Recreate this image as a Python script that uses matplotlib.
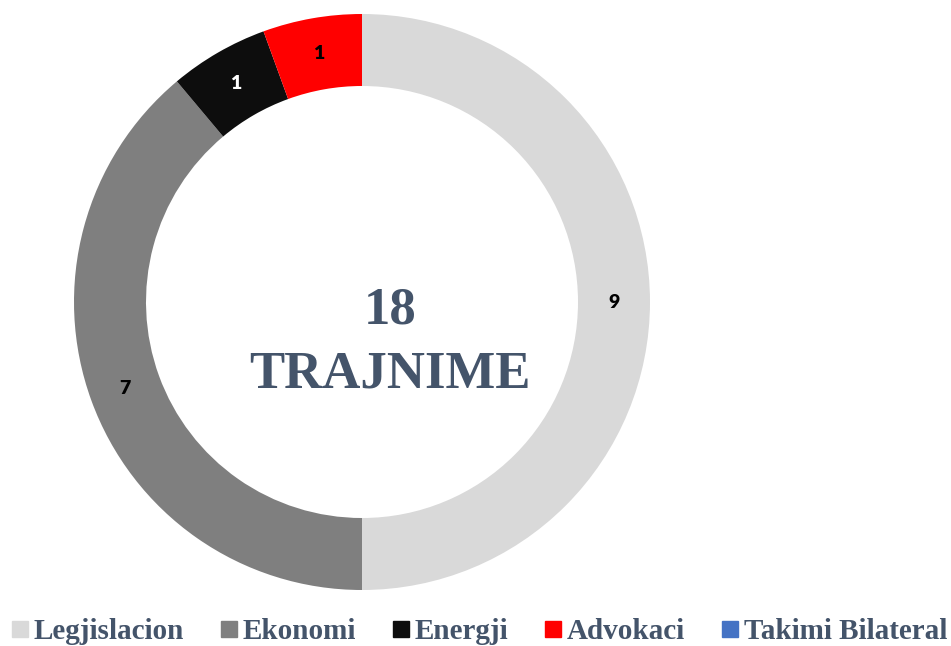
import matplotlib
matplotlib.use('Agg')
import matplotlib.pyplot as plt
from matplotlib.lines import Line2D

# Data
categories = ['Legjislacion', 'Ekonomi', 'Energji', 'Advokaci', 'Takimi Bilateral']
values = [9, 7, 1, 1, 0]
colors = ['#D9D9D9', '#7F7F7F', '#0D0D0D', '#FF0000', '#4472C4']
label_colors = ['black', 'black', 'white', 'black', 'black']
center_lines = ['18', 'TRAJNIME']

total = sum(values)
title_color = '#44546A'

fig = plt.figure(figsize=(9.51, 6.46), dpi=100)
ax = fig.add_axes([74 / 951, 56 / 646, 576 / 951, 576 / 646])

def fmt(p):
    v = round(p * total / 100)
    return f'{v:d}' if v > 0 else ''

wedges, texts, autotexts = ax.pie(values, colors=colors, startangle=90, counterclock=False,
                                  radius=1, autopct=fmt, pctdistance=0.875,
                                  wedgeprops=dict(width=0.25, linewidth=0),
                                  textprops=dict(fontfamily='Lato', fontweight='heavy', fontsize=14))
for t, c in zip(autotexts, label_colors):
    t.set_color(c)

ax.set_xlim(-1, 1)
ax.set_ylim(-1, 1)
ax.set_aspect('equal')
ax.axis('off')

# Center text (slightly right of the ring centre, as in the original)
ax.text(0.097, -0.03, center_lines[0], ha='center', va='center', fontsize=38,
        fontfamily='Liberation Serif', fontweight='bold', color=title_color)
ax.text(0.097, -0.25, center_lines[1], ha='center', va='center', fontsize=38,
        fontfamily='Liberation Serif', fontweight='bold', color=title_color)

# Legend
handles = [Line2D([0], [0], marker='s', linestyle='none', markersize=11,
                  markerfacecolor=c, markeredgecolor=c) for c in colors]
fig.legend(handles, categories, loc='center', ncol=5, frameon=False,
           bbox_to_anchor=(0.504, 0.022), handlelength=0.55, handletextpad=0.2,
           columnspacing=1.26, borderpad=0, borderaxespad=0,
           prop=dict(family='Liberation Serif', weight='bold', size=21),
           labelcolor=title_color)

fig.savefig('out.png', dpi=100)
